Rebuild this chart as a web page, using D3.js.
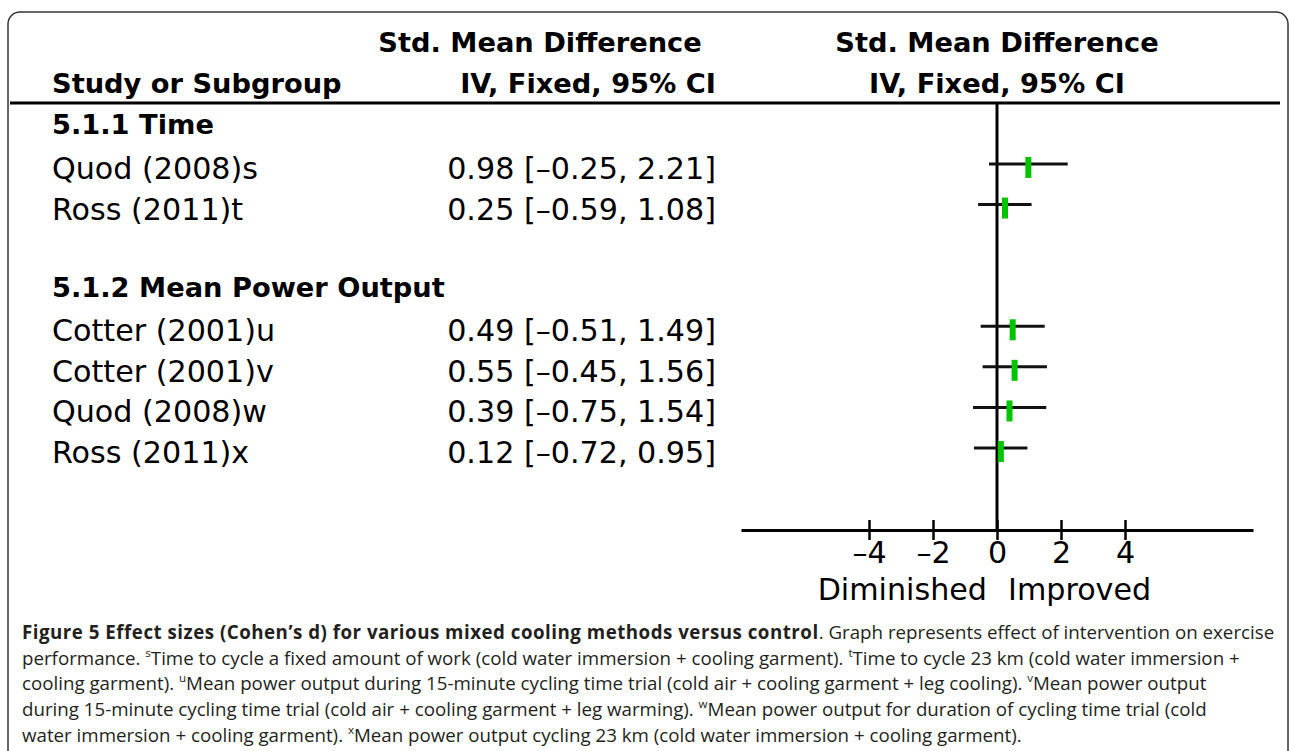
<!DOCTYPE html>
<html>
<head>
<meta charset="utf-8">
<script src="https://cdn.jsdelivr.net/npm/d3@7"></script>
<style>
  html, body { margin: 0; padding: 0; background: #fff; }
  #chart { width: 1290px; height: 751px; overflow: hidden; }
  .lbl { font-family: "DejaVu Sans", sans-serif; fill: #000; }
  .cap { font-family: "Open Sans", sans-serif; fill: #231f20; }
</style>
</head>
<body>
<div id="chart"></div>
<script>
// data
const groups = ["5.1.1 Time", "5.1.2 Mean Power Output"];
const studies = ["Quod (2008)s", "Ross (2011)t", "Cotter (2001)u", "Cotter (2001)v", "Quod (2008)w", "Ross (2011)x"];
const groupOf = [0, 0, 1, 1, 1, 1];
const smd = [0.98, 0.25, 0.49, 0.55, 0.39, 0.12];
const ciLow = [-0.25, -0.59, -0.51, -0.45, -0.75, -0.72];
const ciHigh = [2.21, 1.08, 1.49, 1.56, 1.54, 0.95];
const xTicks = [-4, -2, 0, 2, 4];
const xDomain = [-8, 8];

// caption: each line is a list of [text, style]
const caption = [
  [["Figure 5 Effect sizes (Cohen\u2019s d) for various mixed cooling methods versus control", "b"], [". Graph represents effect of intervention on exercise", "n"]],
  [["performance. ", "n"], ["s", "sup"], ["Time to cycle a fixed amount of work (cold water immersion + cooling garment). ", "n"], ["t", "sup"], ["Time to cycle 23 km (cold water immersion +", "n"]],
  [["cooling garment). ", "n"], ["u", "sup"], ["Mean power output during 15-minute cycling time trial (cold air + cooling garment + leg cooling). ", "n"], ["v", "sup"], ["Mean power output", "n"]],
  [["during 15-minute cycling time trial (cold air + cooling garment + leg warming). ", "n"], ["w", "sup"], ["Mean power output for duration of cycling time trial (cold", "n"]],
  [["water immersion + cooling garment). ", "n"], ["x", "sup"], ["Mean power output cycling 23 km (cold water immersion + cooling garment).", "n"]]
];

const width = 1290, height = 751;
const svg = d3.select("#chart").append("svg")
    .attr("width", width)
    .attr("height", height);

// helper: font size so that str is target px wide
function fitSize(cls, weight, str, target) {
    const t = svg.append("text").attr("class", cls)
        .attr("font-weight", weight).attr("font-size", 100).text(str);
    const w = t.node().getComputedTextLength();
    t.remove();
    return 100 * target / w;
}

// RevMan prints negatives with a short dash
const fmt = v => d3.format(".2f")(v).replace("\u2212", "\u2013");
const fmtTick = v => d3.format("d")(v).replace("\u2212", "\u2013");
const ciText = d => fmt(d.est) + " [" + fmt(d.lo) + ", " + fmt(d.hi) + "]";

const boldSize = fitSize("lbl", "bold", groups[1], 393);
const bodySize = fitSize("lbl", "normal", ciText({est: smd[0], lo: ciLow[0], hi: ciHigh[0]}), 269);

/***** FRAME *****/
svg.append("rect")
    .attr("x", 8).attr("y", 12)
    .attr("width", 1280).attr("height", 820)
    .attr("rx", 12)
    .attr("fill", "none")
    .attr("stroke", "#333")
    .attr("stroke-width", 1.5);

/***** ROWS *****/
const rows = [];
let prev = -1;
studies.forEach((s, i) => {
    if (groupOf[i] !== prev) {
        if (prev !== -1) rows.push({type: "blank"});
        rows.push({type: "group", label: groups[groupOf[i]]});
        prev = groupOf[i];
    }
    rows.push({type: "study", label: s, est: smd[i], lo: ciLow[i], hi: ciHigh[i]});
});
rows.forEach((r, i) => r.idx = i);

const y = d3.scaleLinear().domain([1, 8]).range([164, 448]);
const x = d3.scaleLinear().domain(xDomain).range([741, 1253]);

/***** HEADER *****/
const header = svg.append("g").attr("id", "header")
    .attr("font-weight", "bold").attr("font-size", boldSize);
header.append("text").attr("class", "lbl").attr("x", 52).attr("y", 93).text("Study or Subgroup");
header.append("text").attr("class", "lbl").attr("x", 540).attr("y", 52)
    .attr("text-anchor", "middle").text("Std. Mean Difference");
header.append("text").attr("class", "lbl").attr("x", 716).attr("y", 93)
    .attr("text-anchor", "end").text("IV, Fixed, 95% CI");
header.append("text").attr("class", "lbl").attr("x", x(0)).attr("y", 52)
    .attr("text-anchor", "middle").text("Std. Mean Difference");
header.append("text").attr("class", "lbl").attr("x", x(0)).attr("y", 93)
    .attr("text-anchor", "middle").text("IV, Fixed, 95% CI");

svg.append("line")
    .attr("x1", 10).attr("x2", 1280)
    .attr("y1", 103).attr("y2", 103)
    .attr("stroke", "#000").attr("stroke-width", 3);

/***** TABLE TEXT *****/
const table = svg.append("g").attr("id", "table");
table.selectAll(".grp")
    .data(rows.filter(r => r.type === "group"))
    .enter().append("text")
    .attr("class", "lbl grp")
    .attr("font-weight", "bold").attr("font-size", boldSize)
    .attr("x", 52).attr("y", d => y(d.idx) + 11)
    .text(d => d.label);

const st = rows.filter(r => r.type === "study");
table.selectAll(".name")
    .data(st).enter().append("text")
    .attr("class", "lbl name")
    .attr("font-size", bodySize)
    .attr("x", 52).attr("y", d => y(d.idx) + 15)
    .text(d => d.label);
table.selectAll(".ci")
    .data(st).enter().append("text")
    .attr("class", "lbl ci")
    .attr("font-size", bodySize)
    .attr("text-anchor", "end")
    .attr("x", 716).attr("y", d => y(d.idx) + 15)
    .text(ciText);

/***** PLOT *****/
const plot = svg.append("g").attr("id", "plot");
const axisY = 530;

plot.append("line")
    .attr("x1", x(0)).attr("x2", x(0))
    .attr("y1", 103).attr("y2", axisY)
    .attr("stroke", "#000").attr("stroke-width", 3);

plot.selectAll(".ciLine")
    .data(st).enter().append("line")
    .attr("class", "ciLine")
    .attr("x1", d => x(d.lo)).attr("x2", d => x(d.hi))
    .attr("y1", d => y(d.idx)).attr("y2", d => y(d.idx))
    .attr("stroke", "#111").attr("stroke-width", 3);

plot.selectAll(".est")
    .data(st).enter().append("rect")
    .attr("class", "est")
    .attr("x", d => x(d.est) - 3).attr("width", 6)
    .attr("y", d => y(d.idx) - 7).attr("height", 21)
    .attr("fill", "#00c400");

// x-axis
const xAxis = plot.append("g")
    .attr("class", "xAxis")
    .attr("transform", `translate(0,${axisY})`)
    .call(d3.axisBottom(x).tickValues(xTicks).tickFormat(fmtTick)
        .tickSizeInner(10).tickSizeOuter(0));
xAxis.select(".domain").attr("stroke", "#000").attr("stroke-width", 3);
xAxis.selectAll(".tick line").attr("y1", -10).attr("y2", 10)
    .attr("stroke", "#000").attr("stroke-width", 2.5);
xAxis.selectAll(".tick text")
    .attr("class", "lbl")
    .attr("font-size", bodySize)
    .attr("dy", null)
    .attr("y", 33);

plot.append("text").attr("class", "lbl")
    .attr("font-size", bodySize)
    .attr("text-anchor", "end")
    .attr("x", 987).attr("y", 600).text("Diminished");
plot.append("text").attr("class", "lbl")
    .attr("font-size", bodySize)
    .attr("x", 1008).attr("y", 600).text("Improved");

/***** FOOTER / CAPTION *****/
const footer = svg.append("g").attr("id", "footer");
const capLines = footer.selectAll(".cap")
    .data(caption).enter().append("text")
    .attr("class", "cap")
    .attr("x", 22)
    .attr("y", (d, i) => 639 + i * 25.7)
    .attr("font-size", 18);
capLines.each(function(line) {
    const t = d3.select(this);
    line.forEach(([txt, sty]) => {
        const sp = t.append("tspan").text(txt);
        if (sty === "b") sp.attr("font-weight", "bold").attr("letter-spacing", 0.5);
        if (sty === "sup") {
            sp.attr("font-size", "0.62em").attr("dy", "-0.7em");
        }
        if (sty === "n") {
            const prevSup = sp.node().previousSibling;
            if (prevSup && prevSup.getAttribute("dy")) sp.attr("dy", "0.434em");
        }
    });
});
const w2 = capLines.filter((d, i) => i === 1).node().getComputedTextLength();
capLines.attr("font-size", 18 * 1218 / w2);
</script>
</body>
</html>
